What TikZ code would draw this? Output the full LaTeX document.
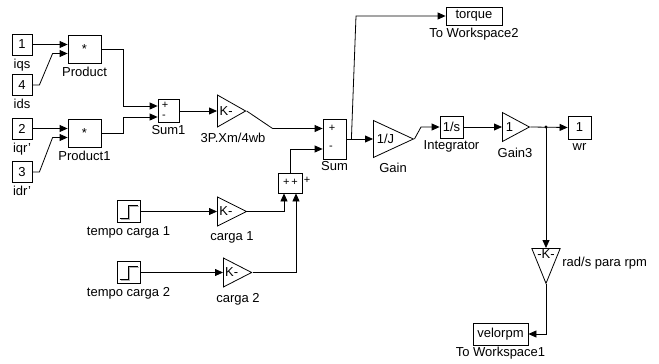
\documentclass[tikz,border=0pt]{standalone}
\usepackage{fontspec}
\setmainfont{Liberation Sans}
\usetikzlibrary{arrows.meta,positioning,shapes.geometric,calc}

\begin{document}
\begin{tikzpicture}[
  x=1pt, y=-1pt,
  font=\fontsize{13pt}{15pt}\selectfont,
  line width=0.8pt,
  blk/.style={draw, rectangle, inner sep=0pt, minimum width=23pt, minimum height=22pt},
  port/.style={blk, minimum width=20pt, minimum height=21pt},
  gainblk/.style={draw, isosceles triangle, isosceles triangle stretches, inner sep=1pt, anchor=west},
  stepblk/.style={blk, path picture={
      \draw[gray!60, line width=1pt] ($(path picture bounding box.center)+(-8,7.5)$) -- ++(9,0) -- ++(0,-13) -- ++(9,0);
      \draw ($(path picture bounding box.center)+(-9,6.5)$) -- ++(9,0) -- ++(0,-13) -- ++(9,0);}},
  sig/.style={-{Triangle[length=8pt,width=7pt]}},
  lbl/.style={inner sep=1pt},
  sgn/.style={inner sep=0pt, font=\fontsize{11pt}{12pt}\selectfont}
]
\useasboundingbox (0,0) rectangle (659,364);

% current inputs
\node[port] (in1) at (22,44.5) {1};
\node[port] (in4) at (22,85) {4};
\node[port] (in2) at (22,128.5) {2};
\node[port] (in3) at (22,172) {3};
\node[lbl, below=2pt of in1] {iqs};
\node[lbl, below=2pt of in4] {ids};
\node[lbl, below=2pt of in2] {iqr'};
\node[lbl, below=2pt of in3] {idr'};

% products and first sum
\node[blk, minimum width=33pt, minimum height=28pt] (prod) at (84.5,49) {*};
\node[blk, minimum width=33pt, minimum height=28pt] (prod1) at (84.5,133) {*};
\node[lbl, below=2pt of prod] {Product};
\node[lbl, below=2pt of prod1] {Product1};
\coordinate (prodA) at ([yshift=4.5pt]prod.west);
\coordinate (prodB) at ([yshift=-4.5pt]prod.west);
\coordinate (prod1A) at ([yshift=4.5pt]prod1.west);
\coordinate (prod1B) at ([yshift=-4.5pt]prod1.west);

\node[blk, minimum width=21pt, minimum height=23pt] (sum1) at (168.5,111) {};
\node[sgn] (sum1p) at (165,105) {+};
\node[sgn] (sum1m) at (164,117) {-};
\node[lbl, below=1pt of sum1] {Sum1};
\coordinate (sum1A) at ([yshift=5pt]sum1.west);
\coordinate (sum1B) at ([yshift=-6pt]sum1.west);

\draw[sig] (in1.east) -- (prodA);
\draw[sig] (in4.east) -- ++(7,0) -- ($(prodB)+(-15,0)$) -- (prodB);
\draw[sig] (in2.east) -- (prod1A);
\draw[sig] (in3.east) -- ++(7,0) -- ($(prod1B)+(-15,0)$) -- (prod1B);
\draw[sig] (prod.east) -- ++(22,0) |- (sum1A);
\draw[sig] (prod1.east) -- ++(22,0) |- (sum1B);

% torque gain and main sum
\node[gainblk, minimum width=32pt, minimum height=28pt] (gtq) at (217,111) {K-};
\node[lbl] at (233,138) {3P.Xm/4wb};
\draw[sig] (sum1.east) -- (gtq.west);

\node[blk, minimum width=23pt, minimum height=40pt] (sum) at (334.5,139) {};
\node[sgn] (sump) at (332,128) {+};
\node[sgn] (summ) at (331,148) {-};
\node[lbl, below=1pt of sum] {Sum};
\coordinate (sumA) at ([yshift=10.5pt]sum.west);
\coordinate (sumB) at ([yshift=-10pt]sum.west);
\draw[sig] (gtq.east) -- ($(sumA)+(-50,0)$) -- (sumA);

% load torque
\node[stepblk] (step1) at (128.5,211.5) {};
\node[stepblk] (step2) at (128.5,272.5) {};
\node[lbl, below=2pt of step1] {tempo carga 1};
\node[lbl, below=2pt of step2] {tempo carga 2};
\node[gainblk, minimum width=29pt, minimum height=29pt] (c1) at (217,211.5) {K-};
\node[gainblk, minimum width=29pt, minimum height=28pt] (c2) at (223,272.5) {K-};
\node[lbl] at (232,237) {carga 1};
\node[lbl] at (238,299) {carga 2};
\draw[sig] (step1.east) -- (c1.west);
\draw[sig] (step2.east) -- (c2.west);

\node[blk, minimum width=24pt, minimum height=20pt] (sumL) at (290,183) {};
\node[sgn] (sumLp) at (290.5,182.5) {+\,+};
\node[sgn] (sumLo) at (307,180) {+};
\coordinate (sumLA) at ([xshift=-6pt]sumL.south);
\coordinate (sumLB) at ([xshift=6pt]sumL.south);
\draw[sig] (c1.east) -| (sumLA);
\draw[sig] (c2.east) -| (sumLB);
\draw[sig] (sumL.north) |- (sumB);

% mechanical part
\coordinate (brT) at ([xshift=5pt]sum.east);
\coordinate (tqc) at (356,16);
\node[blk, minimum width=56pt, minimum height=18pt] (torque) at (474,16) {torque};
\node[lbl, below=1pt of torque] {To Workspace2};
\draw (sum.east) -- (brT);
\draw[sig] (brT) -- (tqc) -- (torque.west);

\node[gainblk, minimum width=37pt, minimum height=40pt] (gJ) at (373,139) {1/J};
\node[lbl] at (393,168) {Gain};
\draw[sig] (brT) -- (gJ.west);

\node[blk, minimum width=23pt, minimum height=22pt] (integ) at (451.5,127) {1/s};
\node[lbl, below=1pt of integ] {Integrator};
\draw[sig] (gJ.east) -- (421,127) -- (integ.west);

\node[gainblk, minimum width=29pt, minimum height=27pt] (g3) at (502,127) {1};
\node[lbl] at (515,153) {Gain3};
\draw[sig] (integ.east) -- (g3.west);

\node[port, minimum width=23pt, minimum height=23pt] (wr) at (579.5,127.5) {1};
\node[lbl, below=3pt of wr] {wr};
\coordinate (brW) at (546,127);
\draw[sig] (g3.east) -- (wr.west);
\fill (brW) circle (1.6pt);

\node[draw, isosceles triangle, isosceles triangle stretches, shape border rotate=270,
  minimum width=28pt, minimum height=35pt, inner sep=1pt, anchor=north] (grpm) at (546,248) {-K-};
\node[lbl, anchor=west] at (561,263) {rad/s para rpm};
\draw[sig] (brW) -- (grpm.north);

\node[blk, minimum width=55pt, minimum height=22pt] (velo) at (500.5,334) {velorpm};
\node[lbl, below=0pt of velo] {To Workspace1};
\draw[sig] (grpm.south) |- (velo.east);
\end{tikzpicture}
\end{document}
